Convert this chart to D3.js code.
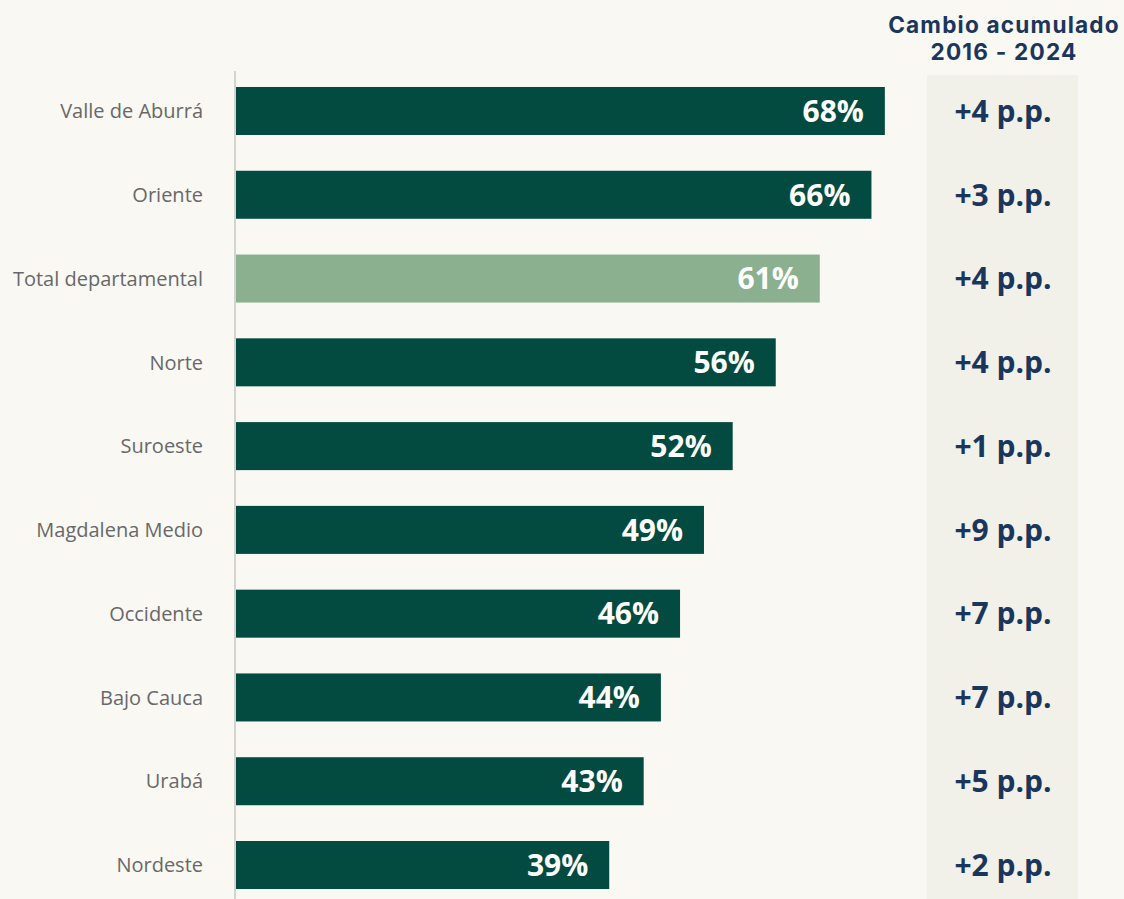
<!DOCTYPE html>
<html>
<head>
<meta charset="utf-8">
<script src="https://cdn.jsdelivr.net/npm/d3@7/dist/d3.min.js"></script>
<style>
  html, body { margin: 0; padding: 0; background: #f9f8f2; }
  svg { display: block; }
</style>
</head>
<body>
<svg id="chart" width="1124" height="899"></svg>
<script>
const categories = ["Valle de Aburrá", "Oriente", "Total departamental", "Norte", "Suroeste",
  "Magdalena Medio", "Occidente", "Bajo Cauca", "Urabá", "Nordeste"];
const values = [67.8, 66.4, 61.0, 56.4, 51.9, 48.9, 46.4, 44.4, 42.6, 39.0];
const valueLabels = ["68%", "66%", "61%", "56%", "52%", "49%", "46%", "44%", "43%", "39%"];
const changeLabels = ["+4 p.p.", "+3 p.p.", "+4 p.p.", "+4 p.p.", "+1 p.p.", "+9 p.p.", "+7 p.p.", "+7 p.p.", "+5 p.p.", "+2 p.p."];
const highlight = ["Total departamental"];
const headerLines = ["Cambio acumulado", "2016 - 2024"];

const svg = d3.select("#chart");
const W = 1124, H = 899;
const FONT = "'Open Sans', sans-serif";
svg.append("rect").attr("width", W).attr("height", H).attr("fill", "#f9f8f2");

const x = d3.scaleLinear().domain([0, 100]).range([236, 236 + 957]);
const y = d3.scaleBand().domain(categories).range([69.1, 906.9]).paddingInner(0.427).paddingOuter(0.2135);

// grey column
svg.append("rect").attr("x", 927).attr("y", 75).attr("width", 151).attr("height", H - 75).attr("fill", "#f1f0e9");

// header (two separate lines)
svg.selectAll("text.hdr").data(headerLines).join("text").attr("class", "hdr")
  .attr("x", 1004).attr("y", (d, i) => 32.5 + i * 27.8).attr("text-anchor", "middle")
  .attr("font-family", "Inter, 'Open Sans', sans-serif").attr("font-weight", 700).attr("font-size", 22.6)
  .attr("letter-spacing", 1.2)
  .attr("fill", "#1b365d").text(d => d);

// axis line
svg.append("line").attr("x1", 235).attr("x2", 235).attr("y1", 71).attr("y2", H)
  .attr("stroke", "#d3d3d0").attr("stroke-width", 2);

const rows = categories.map((c, i) => ({ c, v: values[i], lab: valueLabels[i], ch: changeLabels[i] }));

svg.selectAll("rect.bar").data(rows).join("rect").attr("class", "bar")
  .attr("x", x(0)).attr("y", d => y(d.c))
  .attr("width", d => x(d.v) - x(0)).attr("height", y.bandwidth())
  .attr("fill", d => highlight.includes(d.c) ? "#8bb08f" : "#034b40");

svg.selectAll("text.val").data(rows).join("text").attr("class", "val")
  .attr("x", d => x(d.v) - 21).attr("y", d => y(d.c) + y.bandwidth() / 2)
  .attr("dy", "0.36em").attr("text-anchor", "end")
  .attr("font-family", FONT).attr("font-weight", 700).attr("font-size", 30)
  .attr("fill", "#ffffff").text(d => d.lab);

svg.selectAll("text.cat").data(rows).join("text").attr("class", "cat")
  .attr("x", 203).attr("y", d => y(d.c) + y.bandwidth() / 2)
  .attr("dy", "0.36em").attr("text-anchor", "end")
  .attr("font-family", FONT).attr("font-size", 20)
  .attr("fill", "#68686a").text(d => d.c);

svg.selectAll("text.ch").data(rows).join("text").attr("class", "ch")
  .attr("x", 1003).attr("y", d => y(d.c) + y.bandwidth() / 2)
  .attr("dy", "0.36em").attr("text-anchor", "middle")
  .attr("font-family", FONT).attr("font-weight", 700).attr("font-size", 30)
  .attr("fill", "#1b365d").text(d => d.ch);
</script>
</body>
</html>
